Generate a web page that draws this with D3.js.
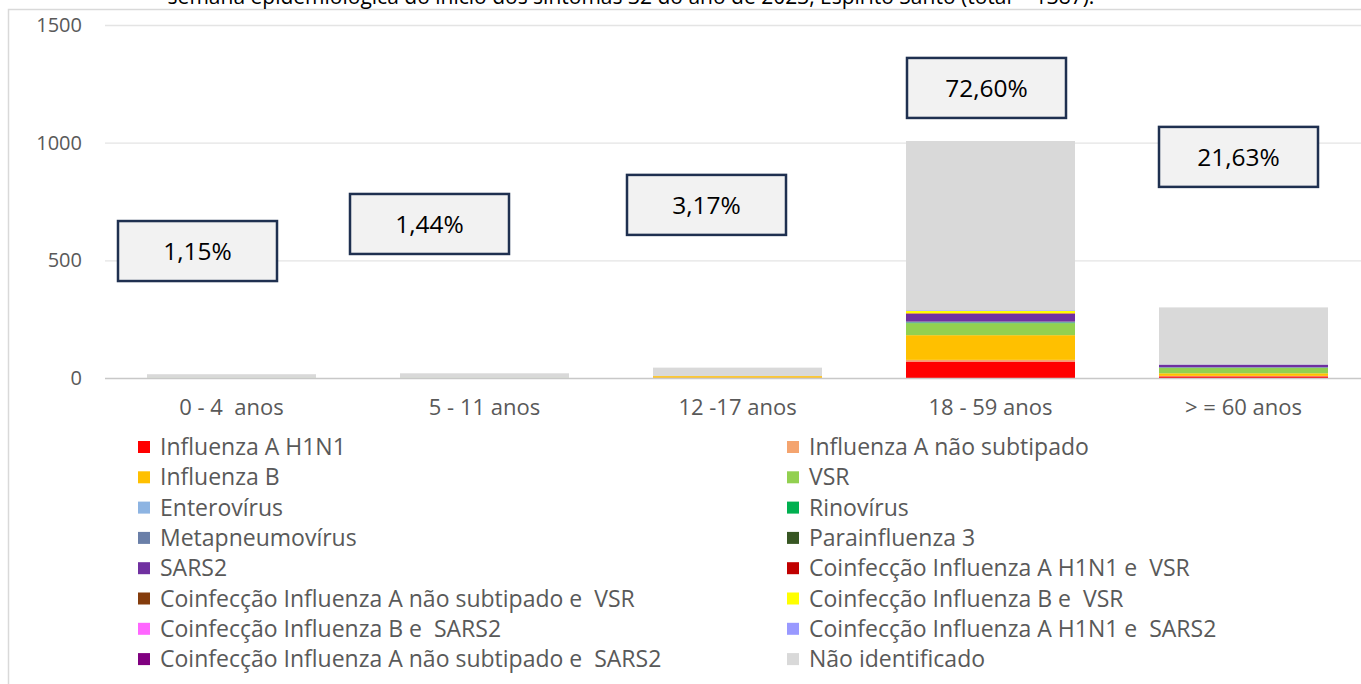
<!DOCTYPE html>
<html>
<head>
<meta charset="utf-8">
<script src="https://cdn.jsdelivr.net/npm/d3@7"></script>
<style>
  body { margin: 0; background: #fff; }
  svg { display: block; font-family: "Open Sans", sans-serif; }
</style>
</head>
<body>
<svg id="chart" width="1361" height="684"></svg>
<script>
// categorias (faixas etarias)
const categories = ["0 - 4  anos", "5 - 11 anos", "12 -17 anos", "18 - 59 anos", "> = 60 anos"];

// series, na ordem do empilhamento (de baixo para cima)
const seriesNames = [
  "Influenza A H1N1", "Influenza A não subtipado", "Influenza B", "VSR",
  "Enterovírus", "Rinovírus", "Metapneumovírus", "Parainfluenza 3",
  "SARS2", "Coinfecção Influenza A H1N1 e  VSR", "Coinfecção Influenza A não subtipado e  VSR",
  "Coinfecção Influenza B e  VSR", "Coinfecção Influenza B e  SARS2",
  "Coinfecção Influenza A H1N1 e  SARS2", "Coinfecção Influenza A não subtipado e  SARS2",
  "Não identificado"
];
const seriesColors = [
  "#ff0000", "#f4a46f", "#ffc000", "#92d050",
  "#8db4e2", "#00b050", "#6a7fa8", "#375623",
  "#7030a0", "#c00000", "#843c0c",
  "#ffff00", "#ff66ff",
  "#9999ff", "#800080",
  "#d9d9d9"
];

const h1n1        = [0, 0, 1, 70, 7];
const aNaoSub     = [0, 0, 0, 7, 2];
const fluB        = [0, 0, 7, 105, 11];
const vsr         = [1, 1, 0, 51, 23];
const entero      = [0, 0, 0, 0, 0];
const rino        = [0, 0, 0, 3, 1];
const metapneumo  = [0, 0, 0, 3, 2];
const parainf3    = [0, 0, 0, 1, 0];
const sars2       = [0, 0, 0, 33, 10];
const coH1n1Vsr   = [0, 0, 0, 2, 0];
const coANaoVsr   = [0, 0, 0, 0, 0];
const coBVsr      = [0, 0, 0, 10, 1];
const coBSars2    = [0, 0, 0, 0, 0];
const coH1n1Sars2 = [0, 0, 0, 3, 2];
const coANaoSars2 = [0, 0, 0, 0, 0];
const naoIdent    = [15, 19, 36, 719, 241];

const seriesValues = [h1n1, aNaoSub, fluB, vsr, entero, rino, metapneumo, parainf3,
  sars2, coH1n1Vsr, coANaoVsr, coBVsr, coBSars2, coH1n1Sars2, coANaoSars2, naoIdent];

const yTicks = [0, 500, 1000, 1500];
const pctLabels = ["1,15%", "1,44%", "3,17%", "72,60%", "21,63%"];
const titleText = "semana epidemiológica do início dos sintomas 32 do ano de 2023, Espírito Santo (total = 1387).";

// caixas de texto: deslocamento do centro da barra (px) e topo (em unidades do eixo)
const boxDx  = [-34, -55, -31, -4, -5];
const boxTop = [667, 782, 863, 1360, 1067];

const svg = d3.select("#chart");
const W = 1361, H = 684;
const plotLeft = 105, plotRight = 1370, plotTop = 25, plotBottom = 378;

const x = d3.scaleBand().domain(categories).range([plotLeft, plotRight])
  .paddingInner(0.332).paddingOuter(0.166);
const y = d3.scaleLinear().domain([0, 1500]).range([plotBottom, plotTop]);

// moldura do grafico
svg.append("rect").attr("x", 8.5).attr("y", 9.5).attr("width", W + 20).attr("height", H + 20)
  .attr("fill", "none").attr("stroke", "#d9d9d9").attr("stroke-width", 1.5);

// titulo (cortado no topo, como no original)
svg.append("text").attr("x", 631).attr("y", 4).attr("text-anchor", "middle")
  .attr("font-size", 21).attr("fill", "#000").text(titleText);

// grade
svg.append("g").selectAll("line").data(yTicks.filter(d => d > 0)).enter().append("line")
  .attr("x1", plotLeft).attr("x2", W).attr("y1", d => y(d) + 0.5).attr("y2", d => y(d) + 0.5)
  .attr("stroke", "#e4e4e4").attr("stroke-width", 1.3);

// eixo y
const yAxis = svg.append("g").attr("transform", "translate(" + (plotLeft - 23) + ",0)")
  .call(d3.axisLeft(y).tickValues(yTicks).tickSize(0).tickPadding(0).tickFormat(d3.format("d")));
yAxis.select(".domain").remove();
yAxis.selectAll("text").attr("font-size", 20).attr("fill", "#595959").attr("font-family", "'Open Sans', sans-serif");

// barras empilhadas
const rows = categories.map((c, i) => {
  const r = { cat: c };
  seriesNames.forEach((s, j) => { r[s] = seriesValues[j][i]; });
  return r;
});
const stacked = d3.stack().keys(seriesNames)(rows);
svg.append("g").selectAll("g").data(stacked).enter().append("g")
  .attr("fill", (d, i) => seriesColors[i])
  .selectAll("rect").data(d => d).enter().append("rect")
  .attr("x", d => x(d.data.cat))
  .attr("width", x.bandwidth())
  .attr("y", d => y(d[1]))
  .attr("height", d => y(d[0]) - y(d[1]));

// linha do zero / eixo x
svg.append("line").attr("x1", plotLeft).attr("x2", W).attr("y1", plotBottom + 0.5).attr("y2", plotBottom + 0.5)
  .attr("stroke", "#c8c8c8").attr("stroke-width", 1.5);

const xAxis = svg.append("g").attr("transform", "translate(0," + plotBottom + ")")
  .call(d3.axisBottom(x).tickSize(0).tickPadding(21));
xAxis.select(".domain").remove();
xAxis.selectAll("text").attr("font-size", 22).attr("fill", "#595959").attr("font-family", "'Open Sans', sans-serif")
  .style("white-space", "pre");

// caixas com percentuais
const boxW = 159, boxH = 60;
const boxes = svg.append("g").selectAll("g").data(categories).enter().append("g")
  .attr("transform", (c, i) => "translate(" + (x(c) + x.bandwidth() / 2 + boxDx[i] - boxW / 2) + "," + y(boxTop[i]) + ")");
boxes.append("rect").attr("width", boxW).attr("height", boxH)
  .attr("fill", "#f2f2f2").attr("stroke", "#1f3050").attr("stroke-width", 2.5);
boxes.append("text").attr("x", boxW / 2).attr("y", boxH / 2 + 9).attr("text-anchor", "middle")
  .attr("font-size", 24.5).attr("fill", "#000").text((c, i) => pctLabels[i]);

// legenda (duas colunas)
const legX = [138, 787], legY0 = 447, legDy = 30.3;
const leg = svg.append("g").selectAll("g").data(seriesNames).enter().append("g")
  .attr("transform", (s, i) => "translate(" + legX[i % 2] + "," + (legY0 + Math.floor(i / 2) * legDy) + ")");
leg.append("rect").attr("x", 0).attr("y", -6).attr("width", 12).attr("height", 12)
  .attr("fill", (s, i) => seriesColors[i]);
leg.append("text").attr("x", 22).attr("y", 8).attr("font-size", 23).attr("fill", "#595959")
  .style("white-space", "pre").text(s => s);
</script>
</body>
</html>
